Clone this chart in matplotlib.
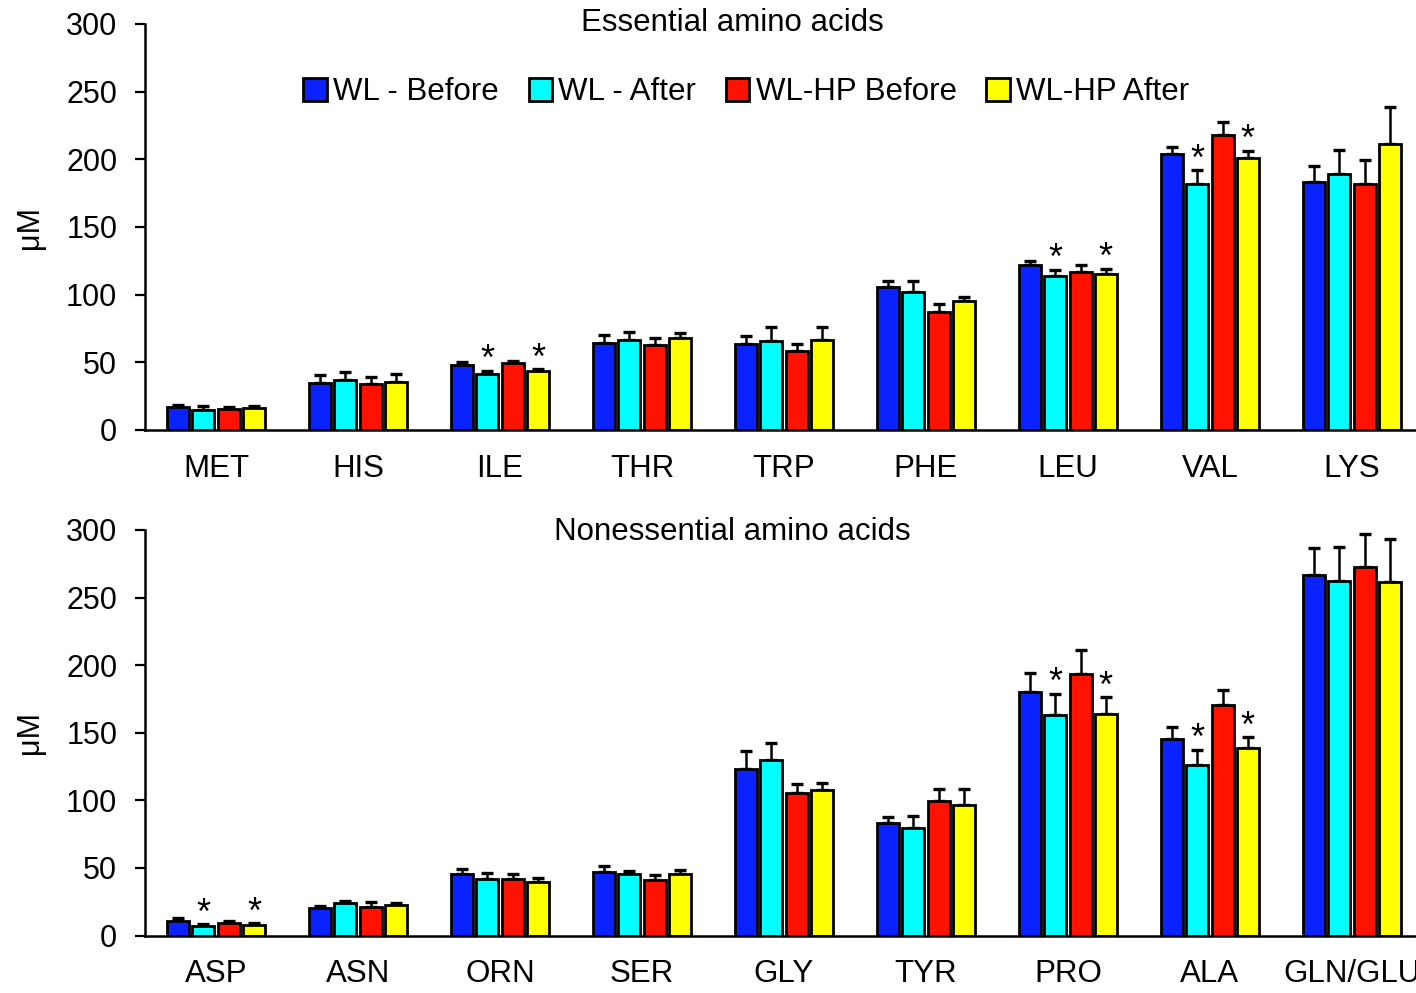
import matplotlib
matplotlib.use("Agg")
import matplotlib.pyplot as plt
import numpy as np

# --- Data ---
SERIES = ["WL - Before", "WL - After", "WL-HP Before", "WL-HP After"]
COLORS = ["#0A22FF", "#00FFFF", "#FF1200", "#FFFF00"]

ess_labels = ["MET", "HIS", "ILE", "THR", "TRP", "PHE", "LEU", "VAL", "LYS"]
ess_wl_before = [16.7, 34.5, 48.0, 64.3, 63.5, 105.4, 122.2, 203.5, 183.0]
ess_wl_after = [14.8, 37.0, 41.4, 66.7, 66.0, 102.2, 113.8, 182.0, 189.2]
ess_hp_before = [15.5, 34.2, 49.2, 63.0, 58.6, 86.9, 117.0, 218.0, 181.8]
ess_hp_after = [16.0, 35.2, 43.6, 68.0, 66.7, 95.0, 115.0, 200.7, 211.4]
ess_err_wl_before = [2.0, 5.9, 2.0, 5.6, 6.2, 4.9, 2.9, 5.4, 11.8]
ess_err_wl_after = [2.6, 5.6, 2.2, 5.4, 10.4, 7.6, 4.7, 9.9, 17.9]
ess_err_hp_before = [1.2, 5.2, 1.8, 5.0, 4.9, 6.2, 5.2, 9.3, 17.4]
ess_err_hp_after = [1.4, 5.8, 1.2, 3.7, 9.7, 3.0, 4.0, 5.5, 27.5]
ess_stars = ["ILE", "LEU", "VAL"]

non_labels = ["ASP", "ASN", "ORN", "SER", "GLY", "TYR", "PRO", "ALA", "GLN/GLU"]
non_wl_before = [11.1, 20.0, 45.2, 47.0, 123.5, 83.0, 180.5, 145.5, 266.9]
non_wl_after = [6.9, 23.9, 41.7, 45.7, 129.6, 79.5, 163.3, 126.4, 262.1]
non_hp_before = [9.1, 21.3, 41.5, 41.0, 105.7, 99.3, 193.1, 170.6, 272.9]
non_hp_after = [7.6, 22.5, 39.3, 45.7, 107.7, 96.3, 163.5, 138.5, 261.4]
non_err_wl_before = [2.0, 1.7, 4.2, 4.6, 13.0, 4.7, 13.5, 9.1, 20.0]
non_err_wl_after = [1.5, 1.8, 4.4, 2.3, 13.1, 8.7, 15.7, 11.1, 25.3]
non_err_hp_before = [1.3, 3.7, 3.7, 3.5, 6.7, 9.1, 17.8, 10.7, 24.4]
non_err_hp_after = [1.5, 1.9, 2.9, 2.7, 5.4, 11.8, 12.8, 8.1, 32.2]
non_stars = ["ASP", "PRO", "ALA"]

# --- Style ---
plt.rcParams['font.family'] = ['Liberation Sans', 'DejaVu Sans']
FS = 22
BAR_W = 0.155
STEP = 0.178


def draw_panel(ax, labels, means, errs, stars):
    x = np.arange(len(labels))
    for k, (m, e) in enumerate(zip(means, errs)):
        pos = x + (k - 1.5) * STEP
        ax.bar(pos, m, width=BAR_W, color=COLORS[k], edgecolor='black',
               linewidth=2.0, label=SERIES[k], zorder=2)
        ax.errorbar(pos, m, yerr=[np.zeros(len(e)), e], fmt='none',
                    ecolor='black', elinewidth=1.8, capsize=4.5, capthick=2.4,
                    zorder=1)
        # significance stars on the "After" bars
        if k in (1, 3):
            for i, lab in enumerate(labels):
                if lab in stars:
                    ax.text(pos[i], m[i] + e[i] + 0.5, "*", ha='center',
                            va='baseline', fontsize=26)

    ax.set_xlim(-0.5, len(labels) - 0.5)
    ax.set_ylim(0, 300)
    ax.set_yticks(np.arange(0, 301, 50))
    ax.set_xticks(x)
    ax.set_xticklabels(labels, fontsize=FS + 0.5)
    ax.tick_params(axis='x', length=0, pad=17)
    ax.tick_params(axis='y', length=7, width=1.6, pad=13, labelsize=FS)
    for s in ['top', 'right']:
        ax.spines[s].set_visible(False)
    for s in ['left', 'bottom']:
        ax.spines[s].set_linewidth(1.8)


fig = plt.figure(figsize=(14.16, 9.93), dpi=100)
ax1 = fig.add_axes([0.1024, 0.567, 0.9025, 0.409])
ax2 = fig.add_axes([0.1024, 0.0579, 0.9025, 0.4084])

draw_panel(ax1, ess_labels,
           [ess_wl_before, ess_wl_after, ess_hp_before, ess_hp_after],
           [ess_err_wl_before, ess_err_wl_after, ess_err_hp_before, ess_err_hp_after],
           ess_stars)
draw_panel(ax2, non_labels,
           [non_wl_before, non_wl_after, non_hp_before, non_hp_after],
           [non_err_wl_before, non_err_wl_after, non_err_hp_before, non_err_hp_after],
           non_stars)

fig.text(0.517, 0.977, "Essential amino acids", ha='center', va='center', fontsize=FS + 0.5)
fig.text(0.517, 0.464, "Nonessential amino acids", ha='center', va='center', fontsize=FS + 0.5)
fig.text(0.021, 0.771, "μM", ha='center', va='center', rotation=90, fontsize=FS)
fig.text(0.021, 0.262, "μM", ha='center', va='center', rotation=90, fontsize=FS)

handles, labs = ax1.get_legend_handles_labels()
fig.legend(handles, labs, loc='center', bbox_to_anchor=(0.527, 0.907), ncol=4,
           frameon=False, fontsize=FS + 0.5, handlelength=0.75, handleheight=0.75,
           handletextpad=0.2, columnspacing=0.95, borderaxespad=0)

fig.savefig("out.png", dpi=100, facecolor='white')
